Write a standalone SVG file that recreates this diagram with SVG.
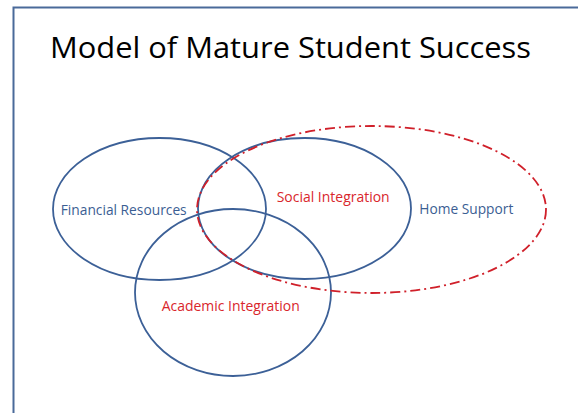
<svg xmlns="http://www.w3.org/2000/svg" width="578" height="413" viewBox="0 0 578 413">
<style>
.ring{fill:none;stroke:#3C6097;stroke-width:1.8}
.home{fill:none;stroke:#D0202A;stroke-width:1.8;stroke-dasharray:10 4 2 4}
.lbl{font-family:"Open Sans","Liberation Sans",sans-serif;font-size:15px}
.blue{fill:#3B5E93}
.red{fill:#D9262C}
.title{font-family:"Open Sans","Liberation Sans",sans-serif;font-size:30px;fill:#000}
</style>
<rect x="0" y="0" width="578" height="413" fill="#fff"/>
<path d="M13.5 413 V7.5 H578" fill="none" stroke="#4A6A9A" stroke-width="2"/>
<text class="title" x="50" y="58" textLength="481" lengthAdjust="spacingAndGlyphs">Model of Mature Student Success</text>
<g id="financial">
<ellipse class="ring" cx="159.5" cy="209" rx="106.5" ry="71"/>
</g>
<g id="social">
<ellipse class="ring" cx="304.5" cy="208.5" rx="106.5" ry="70.5"/>
</g>
<g id="academic">
<ellipse class="ring" cx="233" cy="292.5" rx="98" ry="83.5"/>
</g>
<g id="home">
<ellipse class="home" cx="371.5" cy="209.5" rx="174.5" ry="83.5"/>
</g>
<g id="labels">
<text class="lbl blue" x="60.7" y="215" textLength="126" lengthAdjust="spacingAndGlyphs">Financial Resources</text>
<text class="lbl red" x="276.7" y="202.3" textLength="113" lengthAdjust="spacingAndGlyphs">Social Integration</text>
<text class="lbl blue" x="419.3" y="214.3" textLength="94" lengthAdjust="spacingAndGlyphs">Home Support</text>
<text class="lbl red" x="161.7" y="310.7" textLength="138" lengthAdjust="spacingAndGlyphs">Academic Integration</text>
</g>
</svg>
